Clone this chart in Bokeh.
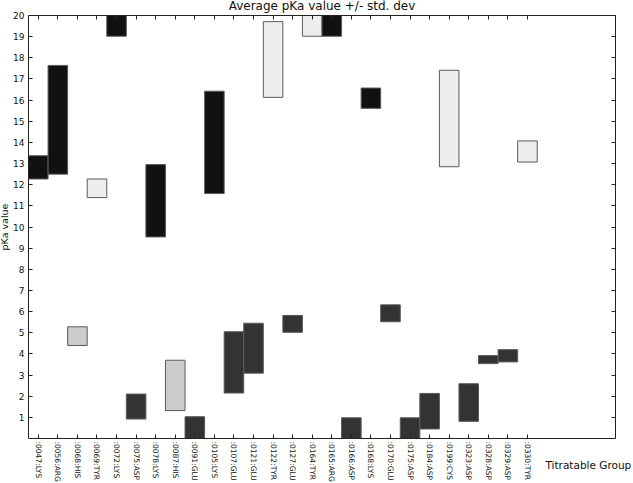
from bokeh.plotting import figure
from bokeh.models import ColumnDataSource, FixedTicker, LinearAxis, Label, Range1d
from bokeh.embed import file_html
from bokeh.resources import INLINE

# ---- data ----
groups = [":0047:LYS", ":0056:ARG", ":0068:HIS", ":0069:TYR", ":0072:LYS",
          ":0075:ASP", ":0078:LYS", ":0087:HIS", ":0091:GLU", ":0105:LYS",
          ":0107:GLU", ":0121:GLU", ":0122:TYR", ":0127:GLU", ":0164:TYR",
          ":0165:ARG", ":0166:ASP", ":0168:LYS", ":0170:GLU", ":0175:ASP",
          ":0184:ASP", ":0199:CYS", ":0323:ASP", ":0328:ASP", ":0329:ASP",
          ":0330:TYR"]
means = [12.82, 15.07, 4.84, 11.83, 20.00, 1.51, 11.24, 2.51, 0.35, 14.00,
         3.60, 4.27, 17.92, 5.42, 20.00, 20.00, 0.30, 16.09, 5.92, 0.30,
         1.29, 15.13, 1.70, 3.73, 3.91, 13.57]
stds = [0.55, 2.57, 0.44, 0.44, 0.98, 0.59, 1.71, 1.19, 0.68, 2.42,
        1.45, 1.18, 1.79, 0.40, 0.98, 0.98, 0.68, 0.48, 0.40, 0.68,
        0.84, 2.28, 0.89, 0.19, 0.29, 0.50]
y_ticks = list(range(1, 21))
title_text = "Average pKa value +/- std. dev"
y_label = "pKa value"
x_label = "Titratable Group"

kind_colors = {"LYS": "#111111", "ARG": "#111111", "ASP": "#333333",
               "GLU": "#333333", "HIS": "#cccccc", "TYR": "#eeeeee",
               "CYS": "#eeeeee"}

# axes box (data units) and its placement on the 633x483 canvas (pixels)
X0, X1, Y0, Y1 = -0.5, 29.5, 0.0, 20.0
W, H = 633, 483
BOX_L, BOX_R, BOX_T, BOX_B = 28, 615, 15, 438
ux = (X1 - X0) / (BOX_R - BOX_L)   # data units per pixel
uy = (Y1 - Y0) / (BOX_B - BOX_T)
x_range = Range1d(X0 - BOX_L * ux, X1 + (W - BOX_R) * ux)
y_range = Range1d(Y0 - (H - BOX_B) * uy, Y1 + BOX_T * uy)

xs = list(range(len(groups)))
low = [m - s for m, s in zip(means, stds)]
high = [m + s for m, s in zip(means, stds)]
# bars are cut at the axes box, as in the reference
bottom = [min(max(v, Y0), Y1) for v in low]
top = [min(max(v, Y0), Y1) for v in high]
colors = [kind_colors[g.split(":")[-1]] for g in groups]
src = ColumnDataSource(dict(x=xs, bottom=bottom, top=top, color=colors,
                            name=groups))

FONT = "DejaVu Sans"
AX = "#222222"

p = figure(width=W, height=H, output_backend="svg", toolbar_location=None,
           x_range=x_range, y_range=y_range, min_border=0)
p.min_border_left = p.min_border_right = p.min_border_top = p.min_border_bottom = 0
p.background_fill_color = "white"
p.border_fill_color = "white"
p.outline_line_color = None
p.xgrid.visible = False
p.ygrid.visible = False

p.vbar(x="x", width=1, bottom="bottom", top="top", fill_color="color",
       line_color="#5a5a5a", line_width=1, source=src)

def style_axis(ax, labels=True):
    ax.major_tick_in = 4
    ax.major_tick_out = 0
    ax.minor_tick_in = 0
    ax.minor_tick_out = 0
    ax.axis_line_color = AX
    ax.major_tick_line_color = AX
    ax.major_label_text_font = FONT
    ax.major_label_text_color = "#111111"
    if not labels:
        ax.major_label_text_color = None
        ax.major_label_text_font_size = "1px"
        ax.major_label_standoff = 0

# bottom axis
xa = p.xaxis[0]
xa.ticker = FixedTicker(ticks=xs)
xa.major_label_overrides = {i: g for i, g in zip(xs, groups)}
xa.major_label_orientation = "vertical"
xa.major_label_text_font_size = "7.5px"
xa.major_label_standoff = 3
xa.fixed_location = Y0
xa.bounds = (X0, X1)
style_axis(xa)

# left axis
ya = p.yaxis[0]
ya.ticker = FixedTicker(ticks=y_ticks)
ya.major_label_text_font_size = "9px"
ya.major_label_standoff = 4
ya.fixed_location = X0
ya.bounds = (Y0, Y1)
style_axis(ya)

# mirrored axes (ticks only)
top_ax = LinearAxis(ticker=FixedTicker(ticks=xs), fixed_location=Y1,
                    bounds=(X0, X1))
style_axis(top_ax, labels=False)
p.add_layout(top_ax, "above")
right_ax = LinearAxis(ticker=FixedTicker(ticks=y_ticks), fixed_location=X1,
                      bounds=(Y0, Y1))
style_axis(right_ax, labels=False)
p.add_layout(right_ax, "right")

# texts
p.add_layout(Label(x=(X0 + X1) / 2, y=Y1 + 0.45, text=title_text, text_font=FONT,
                   text_font_size="12px", text_align="center",
                   text_baseline="alphabetic", text_color="#111111"))
p.add_layout(Label(x=X0 - 1.22, y=(Y0 + Y1) / 2, text=y_label, text_font=FONT,
                   text_font_size="9.5px", text_align="center",
                   text_baseline="alphabetic", angle=1.5707963,
                   text_color="#111111"))
p.add_layout(Label(x=25.92, y=-1.23, text=x_label, text_font=FONT,
                   text_font_size="10.5px", text_align="left",
                   text_baseline="alphabetic", text_color="#111111"))

open("out.html", "w").write(file_html(p, INLINE))
